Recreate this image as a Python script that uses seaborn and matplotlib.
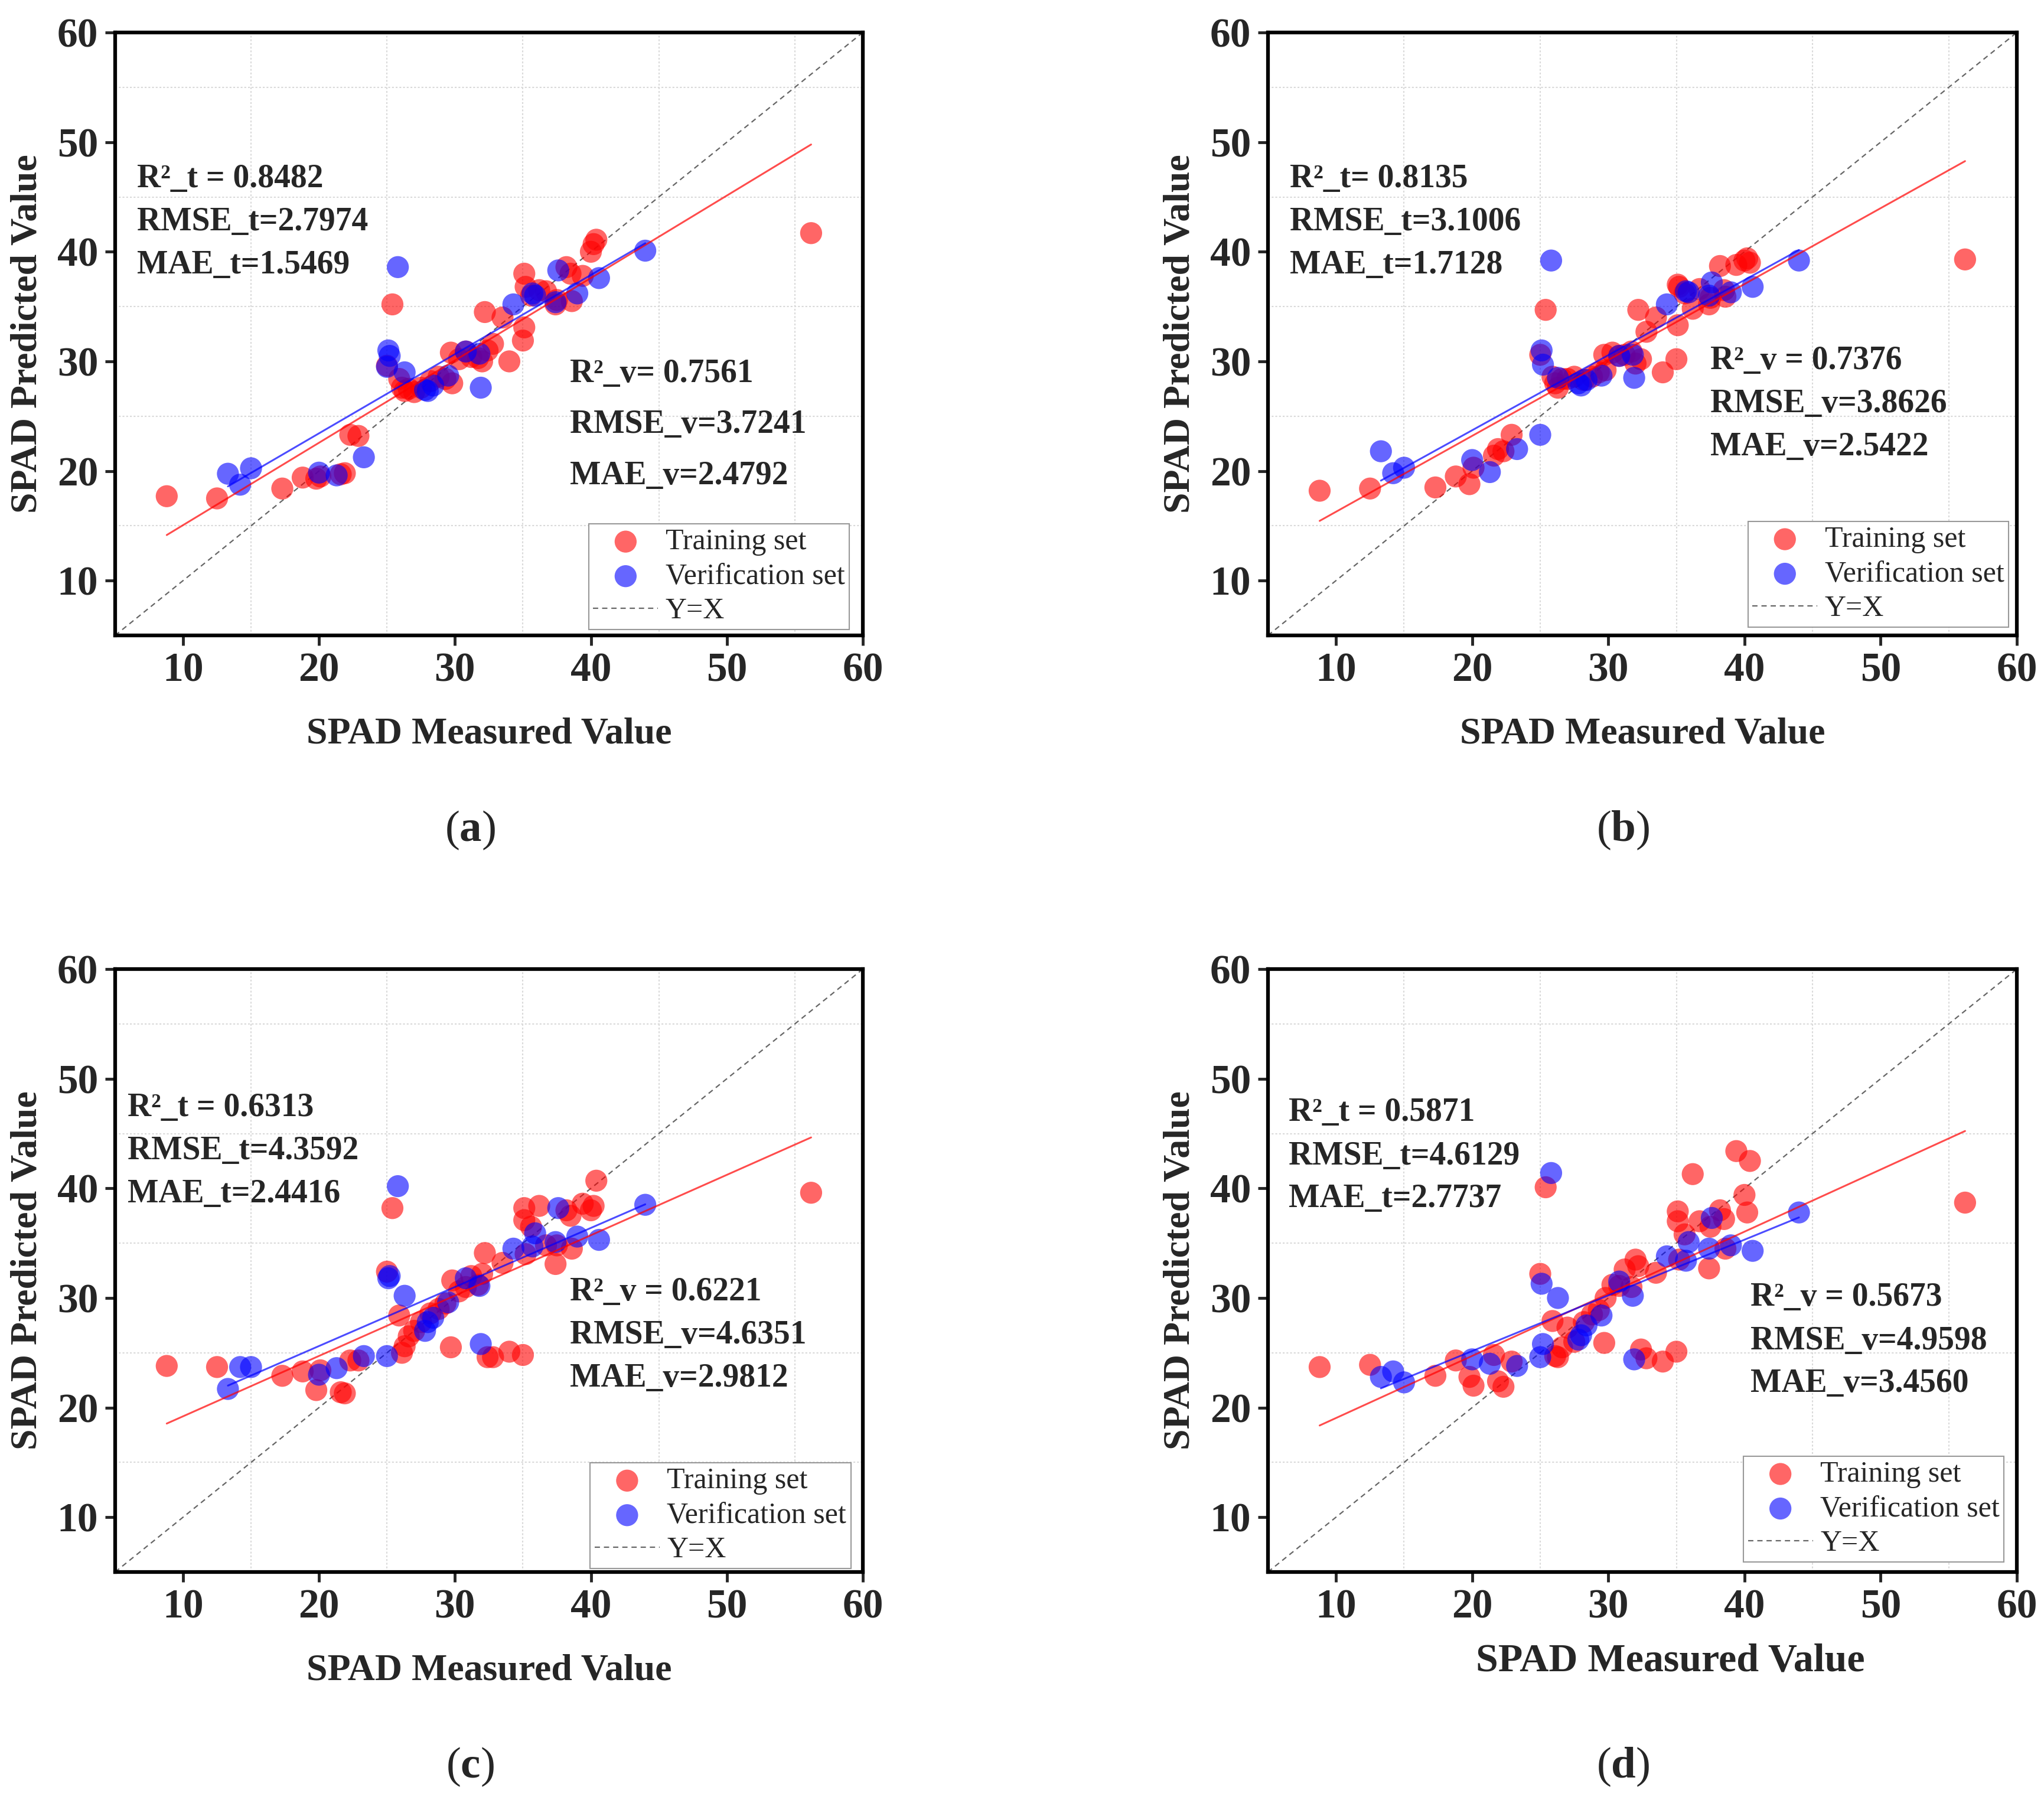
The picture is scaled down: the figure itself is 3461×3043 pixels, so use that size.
import matplotlib
matplotlib.use("Agg")
import matplotlib.pyplot as plt
import seaborn as sns

# measured SPAD values (same samples in every panel)
train_x = [8.8, 12.5, 17.3, 18.8, 19.8, 20.1, 21.6, 21.9, 22.3, 22.9, 25.0, 25.4, 25.9, 26.1,
           26.3, 26.6, 27.0, 27.5, 28.2, 28.8, 29.3, 29.7, 29.8, 30.3, 30.8, 31.2, 31.7, 32.0,
           32.2, 32.4, 32.8, 33.5, 34.0, 35.0, 35.1, 35.1, 35.2, 35.6, 36.2, 36.7, 37.4, 37.5,
           38.2, 38.5, 38.6, 39.4, 40.0, 40.2, 40.4, 56.2]
valid_x = [13.3, 14.2, 15.0, 20.0, 21.3, 23.3, 25.0, 25.1, 25.2, 25.8, 26.3, 27.8, 28.0,
           28.4, 29.5, 30.8, 31.8, 31.9, 34.3, 35.7, 35.9, 37.4, 37.6, 39.0, 40.6, 44.0]

# predicted SPAD values per model
train_pred_a = [17.7, 17.5, 18.4, 19.4, 19.3, 19.5, 19.7, 19.8, 23.3, 23.2, 29.6, 35.2, 28.4, 27.6,
                27.3, 27.5, 27.2, 27.6, 28.2, 28.6, 28.4, 30.8, 28.0, 30.2, 30.9, 30.4, 30.3, 30.0,
                34.5, 31.0, 31.6, 34.0, 30.0, 31.9, 33.1, 38.0, 36.8, 36.0, 36.5, 36.4, 35.2, 35.6,
                38.6, 38.0, 35.5, 37.8, 40.0, 40.7, 41.1, 41.7]
valid_pred_a = [19.75, 18.75, 20.25, 19.85, 19.6, 21.25, 29.5, 31.0, 30.5, 38.6, 29.0, 27.4, 27.3,
                27.8, 28.7, 30.9, 30.7, 27.6, 35.2, 36.2, 36.0, 35.4, 38.3, 36.2, 37.6, 40.1]

train_pred_b = [18.2, 18.4, 18.5, 19.5, 18.8, 20.3, 21.4, 22.0, 21.8, 23.3, 30.6, 34.7, 28.6, 28.0,
                27.6, 28.4, 28.4, 28.6, 28.3, 28.6, 29.0, 30.6, 29.2, 30.8, 30.5, 30.6, 30.9, 29.8,
                34.7, 30.2, 32.7, 34.0, 29.0, 30.2, 33.3, 37.0, 36.8, 36.2, 34.8, 36.6, 35.2, 35.8,
                38.7, 36.5, 35.9, 38.8, 39.2, 39.4, 39.0, 39.3]
valid_pred_b = [21.8, 19.8, 20.3, 21.0, 19.9, 22.0, 23.3, 31.0, 29.7, 39.2, 28.5, 28.0, 27.8,
                28.3, 28.7, 30.5, 30.6, 28.5, 35.2, 36.4, 36.3, 36.0, 37.2, 36.3, 36.8, 39.2]

train_pred_c = [23.8, 23.7, 22.9, 23.3, 21.6, 23.4, 21.4, 21.3, 24.3, 24.3, 32.4, 38.2, 28.4, 25.0,
                25.6, 26.5, 27.0, 27.8, 28.6, 29.0, 29.5, 25.5, 31.6, 30.6, 31.0, 32.0, 31.2, 32.2,
                34.1, 24.6, 24.6, 33.2, 25.1, 24.8, 38.2, 37.1, 34.0, 36.5, 38.4, 34.8, 33.1, 34.8,
                38.0, 37.5, 34.5, 38.6, 38.0, 38.4, 40.7, 39.6]
valid_pred_c = [21.7, 23.7, 23.7, 23.0, 23.6, 24.7, 24.7, 31.8, 32.0, 40.2, 30.2, 27.0, 27.8,
                28.2, 29.6, 31.8, 31.1, 25.8, 34.5, 34.7, 35.9, 35.1, 38.2, 35.6, 35.3, 38.5]

train_pred_d = [23.7, 23.9, 22.9, 24.3, 22.8, 22.0, 24.8, 22.4, 21.9, 24.2, 32.2, 40.1, 27.9, 24.7,
                24.6, 25.5, 27.3, 26.0, 27.8, 28.5, 28.9, 25.9, 30.0, 31.2, 31.1, 32.6, 31.0, 33.5,
                32.9, 25.3, 24.5, 32.3, 24.2, 25.1, 37.9, 37.0, 33.5, 35.8, 41.3, 37.0, 32.7, 36.5,
                38.0, 37.2, 34.5, 43.4, 39.4, 37.8, 42.5, 38.7]
valid_pred_d = [22.8, 23.3, 22.3, 24.4, 24.0, 23.8, 24.6, 31.3, 25.8, 41.4, 30.0, 26.2, 26.6,
                27.5, 28.4, 31.5, 30.2, 24.4, 33.8, 33.4, 35.1, 34.5, 37.3, 34.8, 34.3, 37.8]

stats_train = [
    ["R²_t = 0.8482", "RMSE_t=2.7974", "MAE_t=1.5469"],
    ["R²_t= 0.8135", "RMSE_t=3.1006", "MAE_t=1.7128"],
    ["R²_t = 0.6313", "RMSE_t=4.3592", "MAE_t=2.4416"],
    ["R²_t = 0.5871", "RMSE_t=4.6129", "MAE_t=2.7737"],
]
stats_valid = [
    ["R²_v= 0.7561", "RMSE_v=3.7241", "MAE_v=2.4792"],
    ["R²_v = 0.7376", "RMSE_v=3.8626", "MAE_v=2.5422"],
    ["R²_v = 0.6221", "RMSE_v=4.6351", "MAE_v=2.9812"],
    ["R²_v = 0.5673", "RMSE_v=4.9598", "MAE_v=3.4560"],
]
panel_letters = ["a", "b", "c", "d"]
major_ticks = [10, 20, 30, 40, 50, 60]
grid_ticks = [15, 25, 35, 45, 55]

sns.set_style("white")
plt.rcParams["font.family"] = ["Liberation Serif", "DejaVu Serif"]
plt.rcParams["font.weight"] = "bold"
plt.rcParams["axes.labelweight"] = "bold"
plt.rcParams["mathtext.fontset"] = "custom"
plt.rcParams["mathtext.rm"] = "Liberation Serif"
plt.rcParams["mathtext.bf"] = "Liberation Serif:bold"

fig = plt.figure(figsize=(34.61, 30.43), dpi=100)

# axes boxes and text placement, per panel
axes_boxes = [[0.0563, 0.6464, 0.3658, 0.3355], [0.6203, 0.6464, 0.3664, 0.3355],
              [0.0563, 0.1252, 0.3658, 0.3355], [0.6203, 0.1252, 0.3664, 0.3355]]
left_text_pos = [(0.029, [0.757, 0.686, 0.614]), (0.029, [0.757, 0.686, 0.614]),
                 (0.017, [0.770, 0.698, 0.627]), (0.028, [0.762, 0.690, 0.619])]
right_text_pos = [(0.608, [0.434, 0.350, 0.264]), (0.591, [0.455, 0.384, 0.312]),
                  (0.608, [0.464, 0.393, 0.321]), (0.644, [0.455, 0.383, 0.312])]
legend_anchor = [(0.982, 0.010), (0.989, 0.014), (0.984, 0.006), (0.983, 0.017)]
xlabel_coords = [(0.5, -0.136), (0.5, -0.136), (0.5, -0.136), (0.537, -0.118)]
xlabel_size = [46, 46, 46, 49]
letter_pos = [(0.230, 0.538), (0.794, 0.538), (0.230, 0.0168), (0.794, 0.0168)]

train_preds = [train_pred_a, train_pred_b, train_pred_c, train_pred_d]
valid_preds = [valid_pred_a, valid_pred_b, valid_pred_c, valid_pred_d]


def drawPanel(i):
    ax = fig.add_axes(axes_boxes[i])
    sns.scatterplot(x=train_x, y=train_preds[i], color="red", alpha=0.6, s=720,
                    edgecolor="none", label="Training set", ax=ax, zorder=3)
    sns.scatterplot(x=valid_x, y=valid_preds[i], color="blue", alpha=0.6, s=720,
                    edgecolor="none", label="Verification set", ax=ax, zorder=3)
    sns.regplot(x=train_x, y=train_preds[i], scatter=False, ci=None, color="red",
                line_kws=dict(lw=2.2, alpha=0.7, zorder=4), ax=ax)
    sns.regplot(x=valid_x, y=valid_preds[i], scatter=False, ci=None, color="blue",
                line_kws=dict(lw=2.2, alpha=0.7, zorder=4), ax=ax)
    ax.axline((0, 0), slope=1, color="#666666", ls=(0, (4, 3)), lw=1.6,
              label="Y=X", zorder=2)

    ax.set_xlim(5, 60)
    ax.set_ylim(5, 60)
    ax.set_xticks(major_ticks)
    ax.set_yticks(major_ticks)
    ax.set_xticks(grid_ticks, minor=True)
    ax.set_yticks(grid_ticks, minor=True)
    ax.grid(False)
    ax.grid(which="minor", ls=(0, (1.5, 1.5)), color="#d9d9d9", lw=1.5)
    ax.tick_params(which="major", direction="out", length=12.5, width=3.5,
                   labelsize=50, pad=8, top=False, right=False, bottom=True, left=True)
    ax.tick_params(which="minor", length=0)
    for sp in ax.spines.values():
        sp.set_linewidth(4.5)
        sp.set_color("black")

    ax.set_xlabel("SPAD Measured Value", fontsize=xlabel_size[i], fontweight="bold")
    ax.set_ylabel("SPAD Predicted Value", fontsize=46, fontweight="bold")
    ax.xaxis.set_label_coords(*xlabel_coords[i])
    ax.yaxis.set_label_coords(-0.094, 0.5)

    lx, lys = left_text_pos[i]
    for txt, yy in zip(stats_train[i], lys):
        ax.text(lx, yy, txt, transform=ax.transAxes, fontsize=40, fontweight="bold",
                va="center", ha="left")
    rx, rys = right_text_pos[i]
    for txt, yy in zip(stats_valid[i], rys):
        ax.text(rx, yy, txt, transform=ax.transAxes, fontsize=40, fontweight="bold",
                va="center", ha="left")

    handles, labels = ax.get_legend_handles_labels()
    order = [labels.index(l) for l in ["Training set", "Verification set", "Y=X"]]
    leg = ax.legend([handles[k] for k in order], [labels[k] for k in order],
                    loc="lower right", bbox_to_anchor=legend_anchor[i],
                    borderaxespad=0, frameon=True, fancybox=False,
                    prop={"size": 36, "weight": "normal"}, handlelength=2.2,
                    handletextpad=0.25, labelspacing=0.24, borderpad=0.15)
    leg.get_frame().set_edgecolor("#999999")
    leg.get_frame().set_linewidth(1.5)
    leg.get_frame().set_alpha(1)

    fig.text(letter_pos[i][0], letter_pos[i][1], "($\\mathbf{%s}$)" % panel_letters[i],
             fontsize=54, fontweight="normal", ha="center", va="center")


for i in range(4):
    drawPanel(i)

fig.savefig("out.png", dpi=100, facecolor="white")
